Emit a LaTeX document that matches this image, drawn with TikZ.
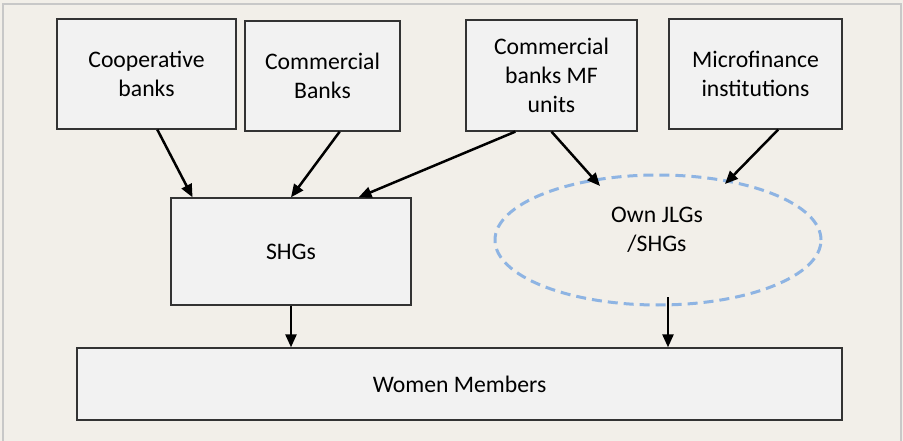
\documentclass[tikz,border=0pt]{standalone}
\usepackage{fontspec}
\setmainfont{Carlito}
\usetikzlibrary{shapes.geometric,arrows.meta,calc}
\definecolor{bgc}{RGB}{242,239,233}
\definecolor{boxfill}{RGB}{242,242,242}
\definecolor{framec}{RGB}{200,200,200}
\definecolor{ellc}{RGB}{142,180,227}
\begin{document}
\begin{tikzpicture}[x=1pt,y=-1pt,
  box/.style={draw=black!80,line width=1.3pt,fill=boxfill,inner sep=0pt,align=center,
    font=\fontsize{23.7}{29}\selectfont},
  arr/.style={line width=2.5pt,-{Triangle[length=13pt,width=11pt]}}]
\useasboundingbox (0,0) rectangle (903,441);
\fill[bgc] (0,0) rectangle (903,441);
\draw[framec,line width=1.5pt] (3,441) -- (3,4) -- (901,4) -- (901,441);
\node[box,minimum width=179pt,minimum height=110pt] (coop) at (146.5,74) {Cooperative\\banks};
\node[box,minimum width=155pt,minimum height=110pt] (comm) at (322.5,76) {Commercial\\Banks};
\node[box,minimum width=171pt,minimum height=111pt] (mfu) at (551.5,75.5) {Commercial\\banks MF\\units};
\node[box,minimum width=173pt,minimum height=110pt] (mfi) at (755.5,74) {Microfinance\\institutions};
\node[box,minimum width=240pt,minimum height=107pt] (shg) at (291,251.5) {SHGs};
\node[draw=ellc,dash pattern=on 10pt off 6pt,line width=3pt,ellipse,
  minimum width=326pt,minimum height=130pt,inner sep=0pt] (ell) at (658,240) {};
\node[align=center,font=\fontsize{23.7}{29}\selectfont] (elltxt) at (657,230) {Own JLGs\\/SHGs};
\node[box,minimum width=765pt,minimum height=72pt] (wom) at (459.5,384) {Women Members};
\coordinate (c1) at ($(coop.south west)!0.56!(coop.south east)$);
\coordinate (s1) at ($(shg.north west)!0.092!(shg.north east)$);
\coordinate (c2) at ($(comm.south west)!0.61!(comm.south east)$);
\coordinate (s2) at ($(shg.north west)!0.5!(shg.north east)$);
\coordinate (c3) at ($(mfu.south west)!0.29!(mfu.south east)$);
\coordinate (s3) at ($(shg.north west)!0.78!(shg.north east)$);
\coordinate (c4) at ($(mfu.south west)!0.5!(mfu.south east)$);
\coordinate (e4) at (600,186);
\coordinate (c5) at ($(mfi.south west)!0.63!(mfi.south east)$);
\coordinate (e5) at (725,184);
\coordinate (s6) at (shg.south);
\coordinate (w6) at (wom.north -| shg.south);
\coordinate (e7) at (668,297);
\coordinate (w7) at (wom.north -| e7);
\draw[arr] (c1) -- (s1);
\draw[arr] (c2) -- (s2);
\draw[arr] (c3) -- (s3);
\draw[arr] (c4) -- (e4);
\draw[arr] (c5) -- (e5);
\draw[arr] (s6) -- (w6);
\draw[arr] (e7) -- (w7);
\end{tikzpicture}
\end{document}
